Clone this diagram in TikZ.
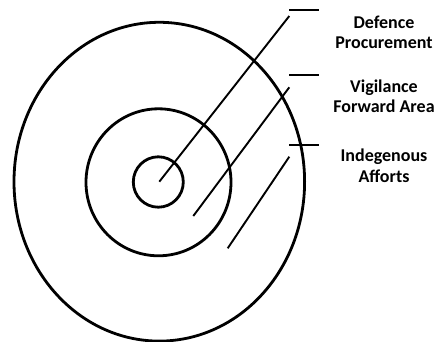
\documentclass[tikz,border=0pt]{standalone}
\usepackage{fontspec}
\setmainfont{Carlito}
\begin{document}
\begin{tikzpicture}[x=1pt,y=-1pt,
  ring/.style={line width=2.8pt},
  leader/.style={line width=1.9pt},
  lbl/.style={font=\bfseries\fontsize{18}{20.5}\selectfont, align=center, inner sep=0pt}]
\useasboundingbox (0,0) rectangle (437,342);
% rings
\draw[ring] (159.3,181.7) ellipse [x radius=145.3, y radius=159.4];
\draw[ring] (158.5,182.3) ellipse [x radius=72.5, y radius=73.5];
\draw[ring] (158.3,182) ellipse [x radius=25, y radius=25.2];
% leader coordinates
\coordinate (a1) at (159.3,181.7);
\coordinate (a2) at (289.3,16);
\coordinate (b1) at (193.3,216);
\coordinate (b2) at (289.3,87.3);
\coordinate (c1) at (227.7,248.3);
\coordinate (c2) at (289.3,156.7);
\coordinate (t1a) at (289.3,10);   \coordinate (t1b) at (319.3,10);
\coordinate (t2a) at (289.3,75);   \coordinate (t2b) at (319.3,75);
\coordinate (t3a) at (289.3,145.3);\coordinate (t3b) at (319.3,145.3);
\draw[leader] (a1) -- (a2);
\draw[leader] (b1) -- (b2);
\draw[leader] (c1) -- (c2);
\draw[leader] (t1a) -- (t1b);
\draw[leader] (t2a) -- (t2b);
\draw[leader] (t3a) -- (t3b);
% labels
\node[lbl] (l1) at (384,32.5) {Defence\\Procurement};
\node[lbl] (l2) at (384,96.5) {Vigilance\\Forward Area};
\node[lbl] (l3) at (384,166) {Indegenous\\Afforts};
\end{tikzpicture}
\end{document}
